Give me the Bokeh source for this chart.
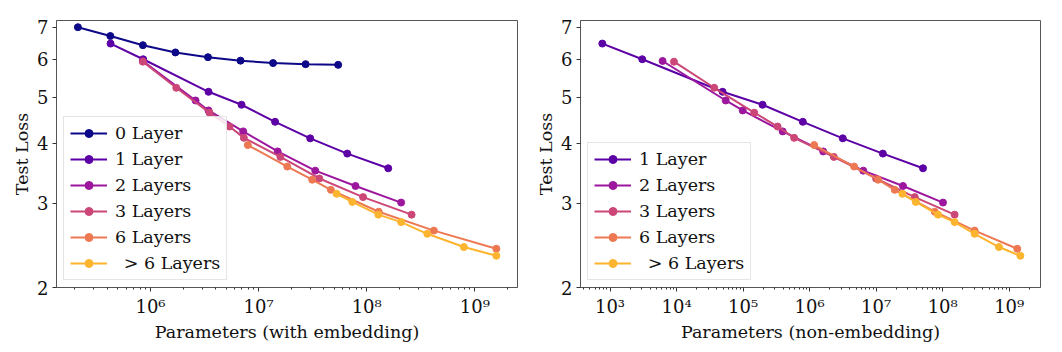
from bokeh.plotting import figure
from bokeh.layouts import row
from bokeh.models import Range1d, FixedTicker, CustomJSTickFormatter, Legend, LegendItem
from bokeh.embed import file_html
from bokeh.resources import INLINE

# ---------------- data ----------------
labels = ["0 Layer", "1 Layer", "2 Layers", "3 Layers", "6 Layers", "\u2002> 6 Layers"]
colors = ["#0d0887", "#5c01a6", "#9c179e", "#cc4778", "#ed7953", "#fdb42f"]

# parameters including embedding
emb_0 = [2.13e5, 4.25e5, 8.5e5, 1.7e6, 3.4e6, 6.8e6, 1.36e7, 2.72e7, 5.44e7]
emb_1 = [4.27e5, 8.55e5, 3.44e6, 6.95e6, 1.42e7, 3.0e7, 6.6e7, 1.58e8]
emb_2 = [8.49e5, 2.61e6, 3.44e6, 7.2e6, 1.5e7, 3.34e7, 7.87e7, 2.08e8]
emb_3 = [8.49e5, 1.73e6, 3.51e6, 5.38e6, 7.3e6, 1.59e7, 3.64e7, 9.25e7, 2.6e8]
emb_6 = [7.94e6, 1.84e7, 3.13e7, 4.66e7, 1.29e8, 4.18e8, 1.58e9]
emb_big = [5.26e7, 7.35e7, 1.28e8, 2.08e8, 3.63e8, 7.91e8, 1.58e9]

# parameters excluding embedding
nonemb_1 = [766, 3.05e3, 4.92e4, 1.96e5, 7.9e5, 3.15e6, 1.26e7, 5.06e7]
nonemb_2 = [6.17e3, 5.48e4, 9.87e4, 3.94e5, 1.6e6, 6.4e6, 2.53e7, 1.01e8]
nonemb_3 = [9.14e3, 3.68e4, 1.47e5, 3.3e5, 5.85e5, 2.31e6, 9.97e6, 3.8e7, 1.51e8]
nonemb_6 = [1.17e6, 4.66e6, 1.07e7, 1.9e7, 7.59e7, 3.02e8, 1.32e9]
nonemb_big = [2.48e7, 3.94e7, 8.5e7, 1.51e8, 3.02e8, 7.0e8, 1.47e9]

# test loss
loss_0 = [7.0, 6.71, 6.42, 6.2, 6.06, 5.96, 5.89, 5.86, 5.84]
loss_1 = [6.47, 6.0, 5.13, 4.82, 4.44, 4.10, 3.81, 3.55]
loss_2 = [5.95, 4.92, 4.69, 4.24, 3.85, 3.51, 3.26, 3.01]
loss_3 = [5.93, 5.23, 4.64, 4.34, 4.11, 3.75, 3.38, 3.09, 2.84]
loss_6 = [3.97, 3.58, 3.36, 3.20, 2.88, 2.63, 2.41]
loss_big = [3.14, 3.02, 2.84, 2.74, 2.59, 2.43, 2.33]

y_ticks = [2, 3, 4, 5, 6, 7]
x_ticks_left = [1e6, 1e7, 1e8, 1e9]
x_ticks_right = [1e3, 1e4, 1e5, 1e6, 1e7, 1e8, 1e9]

FONT = "DejaVu Serif"
sup_code = """
const s = {'0':'\u2070','1':'\u00b9','2':'\u00b2','3':'\u00b3','4':'\u2074','5':'\u2075','6':'\u2076','7':'\u2077','8':'\u2078','9':'\u2079','-':'\u207b'};
const e = Math.round(Math.log10(tick));
return '10' + String(e).split('').map(c => s[c]).join('');
"""


def minor_ticks(lo_exp, hi_exp):
    out = []
    for e in range(lo_exp, hi_exp + 1):
        for k in range(2, 10):
            out.append(k * 10.0 ** e)
    return out


def make_fig(xr, width, bl, br, xlabel, series, xticks, minors):
    p = figure(width=width, height=352, x_axis_type="log", y_axis_type="log",
               x_range=Range1d(*xr), y_range=Range1d(2, 7.23),
               output_backend="svg", toolbar_location=None,
               min_border_left=bl, min_border_right=br,
               min_border_top=20, min_border_bottom=65)
    p.xgrid.visible = False
    p.ygrid.visible = False
    p.outline_line_color = "#555555"
    p.outline_line_width = 1
    p.background_fill_color = "white"
    p.border_fill_color = "white"

    p.xaxis.ticker = FixedTicker(ticks=xticks, minor_ticks=minors)
    p.xaxis.formatter = CustomJSTickFormatter(code=sup_code)
    p.yaxis.ticker = FixedTicker(ticks=y_ticks, minor_ticks=[])
    p.yaxis.formatter = CustomJSTickFormatter(code="return String(Math.round(tick));")
    for ax in (p.xaxis[0], p.yaxis[0]):
        ax.axis_line_color = "#555555"
        ax.major_tick_line_color = "#333333"
        ax.minor_tick_line_color = "#333333"
        ax.major_tick_out = 4
        ax.major_tick_in = 0
        ax.minor_tick_out = 2
        ax.minor_tick_in = 0
        ax.major_label_text_font = FONT
        ax.major_label_text_font_size = "18px"
        ax.major_label_text_color = "#111111"
        ax.axis_label_text_font = FONT
        ax.axis_label_text_font_size = "17.5px"
        ax.axis_label_text_font_style = "normal"
        ax.axis_label_text_color = "#111111"
        ax.major_label_standoff = 4
    p.xaxis.axis_label_standoff = 2
    p.yaxis.axis_label_standoff = 2
    p.xaxis.axis_label = xlabel
    p.yaxis.axis_label = "Test Loss"

    items = []
    for lab, col, xs, ys in series:
        lr = p.line(xs, ys, line_color=col, line_width=2)
        sr = p.scatter(xs, ys, size=7, fill_color=col, line_color=col)
        items.append(LegendItem(label=lab, renderers=[lr, sr]))
    leg = Legend(items=items, location="bottom_left",
                 label_text_font=FONT, label_text_font_size="17.5px",
                 label_text_color="#111111",
                 glyph_width=37, glyph_height=20, spacing=6, padding=6,
                 margin=7, label_standoff=8,
                 border_line_color="#cccccc", border_line_width=1,
                 background_fill_color="white", background_fill_alpha=0.85)
    p.add_layout(leg)
    return p


left_series = [
    (labels[0], colors[0], emb_0, loss_0),
    (labels[1], colors[1], emb_1, loss_1),
    (labels[2], colors[2], emb_2, loss_2),
    (labels[3], colors[3], emb_3, loss_3),
    (labels[4], colors[4], emb_6, loss_6),
    (labels[5], colors[5], emb_big, loss_big),
]
right_series = [
    (labels[1], colors[1], nonemb_1, loss_1),
    (labels[2], colors[2], nonemb_2, loss_2),
    (labels[3], colors[3], nonemb_3, loss_3),
    (labels[4], colors[4], nonemb_6, loss_6),
    (labels[5], colors[5], nonemb_big, loss_big),
]

p1 = make_fig((1.35e5, 2.48e9), 531, 56, 14, "Parameters (with embedding)",
              left_series, x_ticks_left, minor_ticks(5, 9))
p2 = make_fig((360, 2.95e9), 531, 49, 22, "Parameters (non-embedding)",
              right_series, x_ticks_right, minor_ticks(2, 9))

layout = row(p1, p2)
open("out.html", "w").write(file_html(layout, INLINE))
